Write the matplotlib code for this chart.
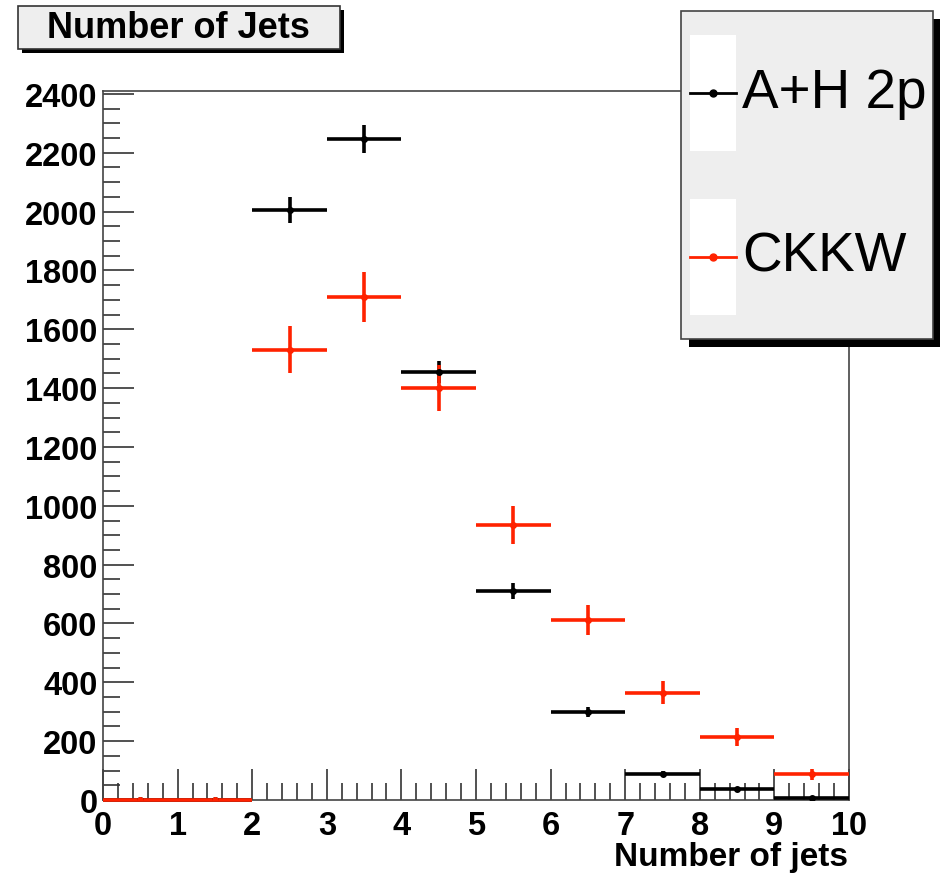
import numpy as np
import matplotlib
matplotlib.use('Agg')
import matplotlib.pyplot as plt
from matplotlib.patches import Rectangle
from matplotlib.lines import Line2D

# Datos (bins de 0 a 10)
bin_lo = np.arange(0, 10)
bin_hi = np.arange(1, 11)
ah2p = [0, 0, 2005, 2247, 1455, 710, 299, 88, 37, 6]
ah2p_err = [0, 0, 45, 47, 38, 27, 17, 9, 6, 3]
ckkw = [0, 0, 1530, 1710, 1400, 935, 612, 364, 214, 88]
ckkw_err = [0, 0, 80, 85, 77, 65, 51, 39, 30, 19]

plt.rcParams['font.family'] = ['Liberation Sans', 'DejaVu Sans']

W, H = 940, 878
fig = plt.figure(figsize=(W / 100, H / 100), dpi=100)


def px(x, y):
    # coordenadas en pixeles (origen arriba a la izquierda) -> fraccion de figura
    return x / W, 1 - y / H


ax = fig.add_axes([103 / W, 1 - 801 / H, 746 / W, 709 / H])

centers = (np.array(bin_lo) + np.array(bin_hi)) / 2
half = (np.array(bin_hi) - np.array(bin_lo)) / 2

for vals, errs, col in [(ah2p, ah2p_err, 'black'), (ckkw, ckkw_err, '#ff2200')]:
    eb = ax.errorbar(centers, vals, xerr=half, yerr=errs, fmt='o', color=col,
                     markersize=4, elinewidth=2.6, capsize=0, zorder=3)
    for art in eb.lines[2]:
        art.set_clip_on(False)

ax.set_xlim(0, 10)
ax.set_ylim(0, 2410)
ax.set_xticks(np.arange(0, 11, 1))
ax.set_xticks(np.arange(0, 10.01, 0.2), minor=True)
ax.set_yticks(np.arange(0, 2401, 200))
ax.set_yticks(np.arange(0, 2401, 50), minor=True)
ax.tick_params(which='both', direction='in', top=False, right=False,
               colors='#333333', labelcolor='black', width=1.2)
ax.tick_params(which='major', length=22, labelsize=23.5)
ax.tick_params(axis='x', which='major', pad=7)
ax.tick_params(axis='y', which='major', pad=4)
ax.tick_params(which='minor', length=12)
for lab in ax.get_xticklabels() + ax.get_yticklabels():
    lab.set_fontweight('bold')
for sp in ax.spines.values():
    sp.set_color('#444444')
    sp.set_linewidth(1.2)

fig.text(848 / W, 1 - 858 / H, 'Number of jets', ha='right', va='center',
         fontsize=24, fontweight='bold')

# Caja del titulo con sombra
x0, y0 = px(18, 50)
fig.add_artist(Rectangle((x0 + 4 / W, y0 - 4 / H), 322 / W, 43 / H,
                         transform=fig.transFigure, facecolor='black',
                         edgecolor='none'))
fig.add_artist(Rectangle((x0, y0), 322 / W, 43 / H, transform=fig.transFigure,
                         facecolor='#eeeeee', edgecolor='#333333', linewidth=1.2))
fig.text(*px(178, 29), 'Number of Jets', ha='center', va='center',
         fontsize=26, fontweight='bold')

# Leyenda con sombra
lx0, ly0 = px(681, 340)
fig.add_artist(Rectangle((lx0 + 8 / W, ly0 - 8 / H), 252 / W, 328 / H,
                         transform=fig.transFigure, facecolor='black',
                         edgecolor='none'))
fig.add_artist(Rectangle((lx0, ly0), 252 / W, 328 / H, transform=fig.transFigure,
                         facecolor='#eeeeee', edgecolor='#444444', linewidth=1.2))
entries = [('A+H 2p', 'black', 36, 152, 94), ('CKKW', '#ff2200', 200, 316, 258)]
for label, col, ytop, ybot, yline in entries:
    bx, by = px(690, ybot)
    fig.add_artist(Rectangle((bx, by), 46 / W, (ybot - ytop) / H,
                             transform=fig.transFigure, facecolor='white',
                             edgecolor='none'))
    fig.add_artist(Line2D([690 / W, 736 / W], [1 - yline / H, 1 - yline / H],
                          transform=fig.transFigure, color=col, linewidth=2))
    fig.add_artist(Line2D([713 / W], [1 - yline / H], transform=fig.transFigure,
                          color=col, marker='o', markersize=5))
    fig.text(*px(742, yline), label, ha='left', va='center', fontsize=39.5)

fig.savefig('out.png', dpi=100)
